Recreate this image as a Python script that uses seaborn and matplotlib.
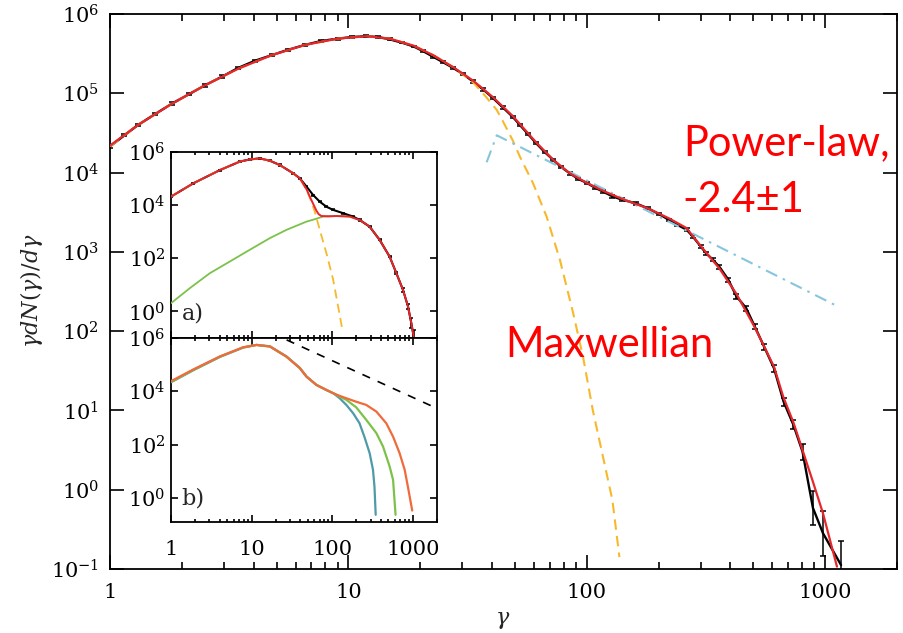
import numpy as np
import matplotlib
matplotlib.use("Agg")
import matplotlib.pyplot as plt
import seaborn as sns
from matplotlib.ticker import LogLocator, NullLocator

sns.set_theme(style="ticks")
plt.rcParams["font.family"] = ["DejaVu Serif"]
plt.rcParams["mathtext.fontset"] = "dejavuserif"
plt.rcParams["axes.edgecolor"] = "black"
plt.rcParams["xtick.color"] = "black"
plt.rcParams["ytick.color"] = "black"

# ---------------- main spectrum (values are log10 of gamma dN/dgamma) ----------------
data_gamma = [1.00, 1.15, 1.31, 1.55, 1.82, 2.15, 2.50, 2.95, 3.45, 4.05,
              4.76, 5.6, 6.57, 7.7, 9.06, 10.4, 11.9, 13.3, 14.9, 16.7,
              18.8, 20.6, 22.7, 25.0, 27.5, 30.3, 33.3, 36.7, 40.4, 44.5,
              49.0, 52.4, 56.5, 61.3, 66.5, 72.3, 78.0, 84.9, 92.0, 100,
              108, 117, 128, 140, 161, 180, 200, 222, 240, 262,
              279, 300, 317, 338, 360, 392, 424, 466, 506, 555,
              610, 669, 735, 803, 888, 979, 1165]
data_log = [4.33, 4.47, 4.60, 4.74, 4.87, 4.99, 5.10, 5.21, 5.32, 5.41,
            5.48, 5.55, 5.61, 5.66, 5.69, 5.71, 5.72, 5.71, 5.68, 5.64,
            5.59, 5.53, 5.46, 5.39, 5.32, 5.24, 5.15, 5.05, 4.94, 4.82,
            4.70, 4.60, 4.49, 4.37, 4.26, 4.16, 4.07, 3.99, 3.92, 3.87,
            3.81, 3.76, 3.70, 3.66, 3.61, 3.55, 3.48, 3.40, 3.34, 3.28,
            3.19, 3.07, 2.98, 2.90, 2.81, 2.65, 2.44, 2.29, 2.06, 1.80,
            1.53, 1.11, 0.82, 0.48, -0.23, -0.55, -0.95]
data_err = [0.015, 0.015, 0.015, 0.015, 0.015, 0.015, 0.015, 0.015, 0.015, 0.015,
            0.012, 0.012, 0.012, 0.012, 0.012, 0.012, 0.012, 0.012, 0.012, 0.012,
            0.012, 0.012, 0.012, 0.012, 0.012, 0.012, 0.015, 0.015, 0.015, 0.015,
            0.015, 0.015, 0.015, 0.015, 0.015, 0.015, 0.015, 0.015, 0.015, 0.015,
            0.015, 0.015, 0.015, 0.015, 0.015, 0.015, 0.015, 0.015, 0.015, 0.015,
            0.02, 0.02, 0.02, 0.02, 0.02, 0.025, 0.03, 0.03, 0.03, 0.035,
            0.04, 0.05, 0.06, 0.10, 0.21, 0.28, 0.30]

fit_gamma = [1.0, 1.31, 1.82, 2.5, 3.45, 4.76, 6.57, 9.06, 11.9, 14.9,
             18.8, 22.7, 27.5, 33.3, 40.4, 49.0, 61.3, 72.3, 84.9, 100,
             117, 140, 180, 222, 262, 301, 360, 424, 506, 610,
             667, 735, 803, 888, 979, 1120]
fit_log = [4.34, 4.60, 4.87, 5.10, 5.31, 5.48, 5.61, 5.69, 5.72, 5.69,
           5.60, 5.48, 5.33, 5.16, 4.95, 4.71, 4.38, 4.16, 3.99, 3.87,
           3.77, 3.67, 3.55, 3.42, 3.30, 3.07, 2.79, 2.47, 2.05, 1.55,
           1.17, 0.85, 0.50, 0.10, -0.30, -0.97]

maxw_gamma = [1.0, 1.31, 1.82, 2.5, 3.45, 4.76, 6.57, 9.06, 11.9, 14.9,
              18.8, 22.7, 27.5, 33.3, 37.9, 41.9, 44.6, 49.0, 52.4, 59.4,
              67.9, 77.1, 87.6, 96.5, 106, 117, 128, 137]
maxw_log = [4.33, 4.60, 4.87, 5.10, 5.31, 5.48, 5.61, 5.69, 5.72, 5.69,
            5.60, 5.48, 5.33, 5.14, 4.95, 4.79, 4.64, 4.40, 4.20, 3.87,
            3.44, 2.90, 2.23, 1.67, 1.00, 0.41, -0.13, -0.85]

pl_gamma = [38.0, 41.9, 1150]
pl_log = [4.13, 4.47, 2.30]

main_yticks = [1e-1, 1e0, 1e1, 1e2, 1e3, 1e4, 1e5, 1e6]
main_ylabels = [r"$10^{-1}$", r"$10^{0}$", r"$10^{1}$", r"$10^{2}$",
                r"$10^{3}$", r"$10^{4}$", r"$10^{5}$", r"$10^{6}$"]
xticks = [1, 10, 100, 1000]
xlabels = ["1", "10", "100", "1000"]

# ---------------- inset a: thermal + non-thermal decomposition ----------------
a_data_gamma = [1.0, 1.89, 4.05, 7.16, 9.5, 12.7, 16.9, 22.4, 32.8, 39.7,
                48.0, 58.1, 70.2, 84.9, 103, 136, 182, 220, 292, 389,
                517, 626, 757, 873, 960, 1026]
a_data_log = [4.32, 4.82, 5.32, 5.64, 5.72, 5.76, 5.67, 5.51, 5.20, 5.01,
              4.70, 4.38, 4.13, 3.94, 3.82, 3.70, 3.57, 3.44, 3.19, 2.69,
              2.06, 1.44, 0.81, 0.19, -0.44, -0.94]
a_data_err = [0.02, 0.02, 0.02, 0.02, 0.02, 0.02, 0.02, 0.02, 0.02, 0.02,
              0.02, 0.02, 0.02, 0.02, 0.02, 0.02, 0.02, 0.02, 0.02, 0.02,
              0.03, 0.04, 0.06, 0.10, 0.20, 0.25]

a_fit_gamma = [1.0, 1.89, 4.05, 7.16, 9.5, 12.7, 16.9, 22.4, 32.8, 39.7,
               48.0, 52.8, 58.1, 63.8, 68.0, 73.6, 90, 113, 140, 165,
               220, 292, 389, 517, 626, 757, 873, 960, 1026]
a_fit_log = [4.32, 4.82, 5.32, 5.64, 5.72, 5.76, 5.67, 5.51, 5.20, 5.01,
             4.60, 4.32, 4.05, 3.79, 3.66, 3.59, 3.58, 3.59, 3.58, 3.57,
             3.44, 3.19, 2.69, 2.06, 1.44, 0.81, 0.19, -0.44, -0.94]

a_nth_gamma = [1.0, 1.72, 3.04, 5.38, 9.5, 16.9, 27.1, 48.0, 60.8, 77.0,
               90, 113, 140, 165, 220, 292, 389, 517]
a_nth_log = [0.31, 0.88, 1.44, 1.88, 2.32, 2.76, 3.07, 3.38, 3.47, 3.57,
             3.58, 3.59, 3.58, 3.57, 3.44, 3.19, 2.69, 2.06]

a_maxw_gamma = [1.0, 1.89, 4.05, 7.16, 9.5, 12.7, 16.9, 22.4, 32.8, 39.7,
                48.0, 52.8, 60.8, 70.2, 84.9, 103, 134]
a_maxw_log = [4.32, 4.82, 5.32, 5.64, 5.72, 5.76, 5.67, 5.51, 5.20, 5.01,
              4.58, 4.28, 3.76, 3.07, 2.19, 1.19, -0.69]

# ---------------- inset b: three runs and a reference slope ----------------
b_orange_gamma = [1.0, 1.89, 4.05, 7.86, 11.5, 16.9, 27.1, 39.7, 48.0, 63.8,
                  84.9, 103, 124, 150, 199, 265, 354, 470, 570, 687,
                  794, 870, 985]
b_orange_log = [4.38, 4.82, 5.31, 5.65, 5.74, 5.68, 5.30, 4.87, 4.55, 4.24,
                4.05, 3.93, 3.83, 3.74, 3.61, 3.49, 3.24, 2.80, 2.30, 1.68,
                1.06, 0.43, -0.47]
b_green_gamma = [1.0, 1.89, 4.05, 7.86, 11.5, 16.9, 27.1, 39.7, 48.0, 63.8,
                 84.9, 103, 124, 150, 199, 265, 354, 428, 517, 570, 612]
b_green_log = [4.35, 4.80, 5.30, 5.65, 5.74, 5.68, 5.30, 4.87, 4.55, 4.24,
               4.05, 3.93, 3.80, 3.68, 3.40, 2.93, 2.43, 1.93, 1.18, 0.68, -0.63]
b_teal_gamma = [1.0, 1.89, 4.05, 7.86, 11.5, 16.9, 27.1, 39.7, 48.0, 63.8,
                84.9, 103, 124, 150, 182, 218, 251, 292, 321, 335, 347]
b_teal_log = [4.34, 4.79, 5.29, 5.64, 5.74, 5.69, 5.31, 4.88, 4.56, 4.24,
              4.05, 3.93, 3.74, 3.49, 3.18, 2.81, 2.30, 1.68, 1.06, 0.43, -0.63]
b_ref_gamma = [27.2, 1960]
b_ref_log = [5.93, 3.37]

inset_yticks = [1e0, 1e2, 1e4, 1e6]
inset_ylabels = [r"$10^{0}$", r"$10^{2}$", r"$10^{4}$", r"$10^{6}$"]

RED = "#e8262b"
GOLD = "#f7b92c"
SKY = "#86c6dc"
GREEN = "#7cc24a"
ORANGE = "#f06a3c"
TEAL = "#4f9aa8"
TICKFONT = 15


def line(ax, g, lg, color, lw, ls="-", z=2):
    sns.lineplot(x=np.asarray(g, float), y=np.power(10.0, lg), ax=ax,
                 color=color, lw=lw, linestyle=ls, sort=False,
                 estimator=None, zorder=z, legend=False)


def measured(ax, g, lg, err, lw, cap):
    y = np.power(10.0, lg)
    e = np.asarray(err)
    lo = y - y * np.power(10.0, -e)
    hi = y * np.power(10.0, e) - y
    ax.errorbar(g, y, yerr=[lo, hi], color="black", lw=lw, elinewidth=1.1,
                capsize=cap, capthick=1.1, zorder=3)


def style_axes(ax, major_len, minor_len, labelsize, xpad, ypad):
    ax.set_xscale("log")
    ax.set_yscale("log")
    for s in ax.spines.values():
        s.set_color("black")
        s.set_linewidth(1.3)
    ax.xaxis.set_minor_locator(LogLocator(base=10, subs=range(2, 10), numticks=20))
    ax.yaxis.set_minor_locator(NullLocator())
    ax.tick_params(which="both", direction="in", top=True, right=True,
                   width=1.2, colors="black")
    ax.tick_params(which="major", length=major_len, labelsize=labelsize)
    ax.tick_params(which="minor", length=minor_len)
    ax.tick_params(axis="x", pad=xpad)
    ax.tick_params(axis="y", pad=ypad)
    ax.grid(False)


W, H = 904, 633
fig = plt.figure(figsize=(W / 100, H / 100), dpi=100)
fig.patch.set_facecolor("white")

# ---------------- main panel ----------------
ax = fig.add_axes([110 / W, 1 - 569 / H, 787 / W, 555 / H])
style_axes(ax, 10, 5, TICKFONT, 10, 8)
measured(ax, data_gamma, data_log, data_err, 1.7, 2.5)
line(ax, maxw_gamma, maxw_log, GOLD, 1.5, ls=(0, (5, 3)), z=4)
line(ax, fit_gamma, fit_log, RED, 1.6, z=5)
line(ax, pl_gamma, pl_log, SKY, 1.5, ls=(0, (6, 3, 1.2, 3)), z=4)
ax.set_xlim(1, 2000)
ax.set_ylim(0.1, 1e6)
ax.set_xticks(xticks)
ax.set_xticklabels(xlabels)
ax.set_yticks(main_yticks)
ax.set_yticklabels(main_ylabels)
ax.set_xlabel("")
ax.set_ylabel("")

fig.text(32 / W, 1 - 291 / H, r"$\gamma dN(\gamma)/d\gamma$", rotation=90,
         ha="center", va="center", fontsize=16)
fig.text(503 / W, 1 - 620 / H, r"$\gamma$", ha="center", va="center", fontsize=16)

fig.text(683 / W, 1 - 155 / H, "Power-law,", color="red", fontsize=30,
         family=["Lato", "DejaVu Sans"], va="baseline", ha="left")
fig.text(682 / W, 1 - 212 / H, "-2.4\u00b11", color="red", fontsize=30,
         family=["Lato", "DejaVu Sans"], va="baseline", ha="left")
fig.text(505 / W, 1 - 357 / H, "Maxwellian", color="red", fontsize=30,
         family=["Lato", "DejaVu Sans"], va="baseline", ha="left")

# ---------------- inset a ----------------
axa = fig.add_axes([171 / W, 1 - 338 / H, 266 / W, 186 / H])
style_axes(axa, 5, 2.5, TICKFONT, 13, 4)
measured(axa, a_data_gamma, a_data_log, a_data_err, 1.5, 1.5)
line(axa, a_nth_gamma, a_nth_log, GREEN, 1.3, z=3)
line(axa, a_maxw_gamma, a_maxw_log, GOLD, 1.3, ls=(0, (5, 3)), z=4)
line(axa, a_fit_gamma, a_fit_log, RED, 1.4, z=5)
axa.set_xlim(1, 2000)
axa.set_ylim(0.1, 1e6)
axa.set_xticks(xticks)
axa.set_xticklabels([])
axa.set_yticks(inset_yticks)
axa.set_yticklabels(inset_ylabels)
axa.set_xlabel("")
axa.set_ylabel("")
axa.text(0.04, 0.13, "a)", transform=axa.transAxes, fontsize=16,
         ha="left", va="center")

# ---------------- inset b ----------------
axb = fig.add_axes([171 / W, 1 - 522 / H, 266 / W, 184 / H])
style_axes(axb, 5, 2.5, TICKFONT, 13, 4)
line(axb, b_ref_gamma, b_ref_log, "black", 1.2, ls=(0, (5, 5)), z=2)
line(axb, b_teal_gamma, b_teal_log, TEAL, 1.6, z=3)
line(axb, b_green_gamma, b_green_log, GREEN, 1.6, z=4)
line(axb, b_orange_gamma, b_orange_log, ORANGE, 1.6, z=5)
axb.set_xlim(1, 2000)
axb.set_ylim(10 ** -0.9, 1e6)
axb.set_xticks(xticks)
axb.set_xticklabels(xlabels)
axb.set_yticks(inset_yticks)
axb.set_yticklabels(inset_ylabels)
axb.set_xlabel("")
axb.set_ylabel("")
axb.text(0.04, 0.13, "b)", transform=axb.transAxes, fontsize=16,
         ha="left", va="center")

fig.savefig("out.png", dpi=100, facecolor="white")
